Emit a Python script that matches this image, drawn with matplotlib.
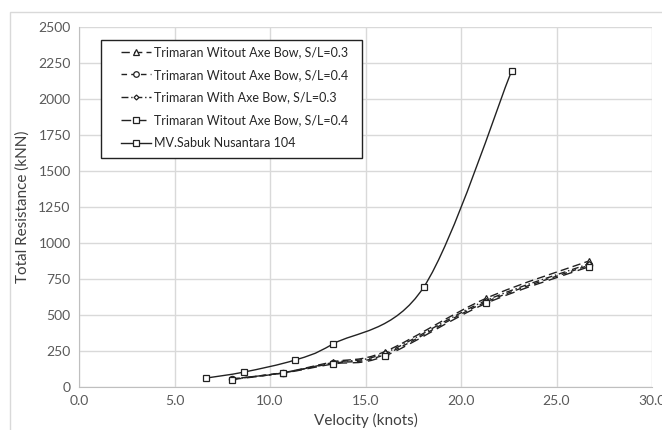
import numpy as np
import matplotlib.pyplot as plt
from matplotlib.path import Path
from matplotlib.patches import PathPatch, Rectangle
from matplotlib.lines import Line2D

plt.rcParams['font.family'] = ['Lato', 'DejaVu Sans']

# data
v_tri = [8.0, 10.7, 13.3, 16.0, 21.3, 26.7]
r_wo_03 = [55, 100, 175, 245, 615, 875]
r_wo_04 = [55, 100, 165, 225, 590, 845]
r_with_03 = [55, 98, 170, 235, 600, 855]
r_wo_04b = [52, 97, 160, 215, 580, 835]

v_mv = [6.65, 8.65, 11.3, 13.3, 18.05, 22.65]
r_mv = [62, 104, 187, 299, 694, 2195]

labels = ['Trimaran Witout Axe Bow, S/L=0.3',
          'Trimaran Witout Axe Bow, S/L=0.4',
          'Trimaran With Axe Bow, S/L=0.3',
          'Trimaran Witout Axe Bow, S/L=0.4',
          'MV.Sabuk Nusantara 104']

styles = [
    dict(ls=(0, (6, 3)), marker='^', ms=4.5),
    dict(ls=(0, (4, 3)), marker='o', ms=4.5),
    dict(ls=(0, (5, 2, 1, 2)), marker='D', ms=3),
    dict(ls=(0, (7, 4)), marker='s', ms=4.5),
    dict(ls='-', marker='s', ms=5),
]


def smooth_path(x, y):
    # Catmull-Rom style bezier through points (like Excel smoothed lines)
    x = np.asarray(x, float)
    y = np.asarray(y, float)
    verts = [(x[0], y[0])]
    codes = [Path.MOVETO]
    n = len(x)
    for i in range(n - 1):
        p0 = (x[max(i - 1, 0)], y[max(i - 1, 0)])
        p1 = (x[i], y[i])
        p2 = (x[i + 1], y[i + 1])
        p3 = (x[min(i + 2, n - 1)], y[min(i + 2, n - 1)])
        t = 6.0
        c1 = (p1[0] + (p2[0] - p0[0]) / t, p1[1] + (p2[1] - p0[1]) / t)
        c2 = (p2[0] - (p3[0] - p1[0]) / t, p2[1] - (p3[1] - p1[1]) / t)
        verts += [c1, c2, p2]
        codes += [Path.CURVE4] * 3
    return Path(verts, codes)


W, H = 662, 430
fig = plt.figure(figsize=(6.62, 4.30), dpi=100)
# outer chart-area border
fig.patches.append(Rectangle((10 / W, -0.1), 1.2, 1.1 - 12 / H,
                             transform=fig.transFigure, fill=False,
                             edgecolor='#d9d9d9', lw=1))
ax = fig.add_axes([79 / W, 1 - 387 / H, (652 - 79) / W, (387 - 27) / H])

col = '#222222'
series = [(v_tri, r_wo_03), (v_tri, r_wo_04), (v_tri, r_with_03),
          (v_tri, r_wo_04b), (v_mv, r_mv)]
handles = []
for (vx, ry), st, lab in zip(series, styles, labels):
    patch = PathPatch(smooth_path(vx, ry), fill=False, edgecolor=col,
                      lw=1.0, linestyle=st['ls'])
    ax.add_patch(patch)
    ax.plot(vx, ry, ls='none', marker=st['marker'], ms=st['ms'],
            mfc='white', mec=col, mew=0.9)
    handles.append(Line2D([], [], color=col, lw=1.0, ls=st['ls'],
                          marker=st['marker'], ms=st['ms'] - 0.5,
                          mfc='white', mec=col, mew=0.9))

ax.set_xlim(0, 30)
ax.set_ylim(0, 2500)
ax.set_xticks(np.arange(0, 31, 5))
ax.set_xticklabels([f'{t:.1f}' for t in np.arange(0, 31, 5)])
ax.set_yticks(np.arange(0, 2501, 250))
ax.grid(True, color='#d9d9d9', lw=1)
ax.set_axisbelow(True)
for s in ax.spines.values():
    s.set_visible(False)
ax.spines['left'].set_visible(True)
ax.spines['bottom'].set_visible(True)
ax.spines['left'].set_color('#bfbfbf')
ax.spines['bottom'].set_color('#bfbfbf')
ax.tick_params(length=0, labelsize=10, colors='#595959', pad=6)
ax.set_xlabel('Velocity (knots)', fontsize=11, color='#404040', labelpad=4)
ax.set_ylabel('Total Resistance (kNN)', fontsize=11, color='#404040', labelpad=6)

# legend frame drawn inside the axes, legend on top of it
frame = Rectangle((101 / W, 1 - 158 / H), 261 / W, 118 / H,
                  transform=fig.transFigure, fill=True, facecolor='white',
                  edgecolor='#222222', lw=1, zorder=4, clip_on=False)
ax.add_patch(frame)
leg = ax.legend(handles, labels, loc='upper left',
                bbox_to_anchor=((121 - 79) / 573, (387 - 46) / 360),
                fontsize=9, frameon=False, handlelength=2.4,
                labelspacing=0.86, borderpad=0, handletextpad=0.2,
                borderaxespad=0)
leg.set_zorder(5)
for t in leg.get_texts():
    t.set_color('#262626')

fig.savefig('out.png', dpi=100)
